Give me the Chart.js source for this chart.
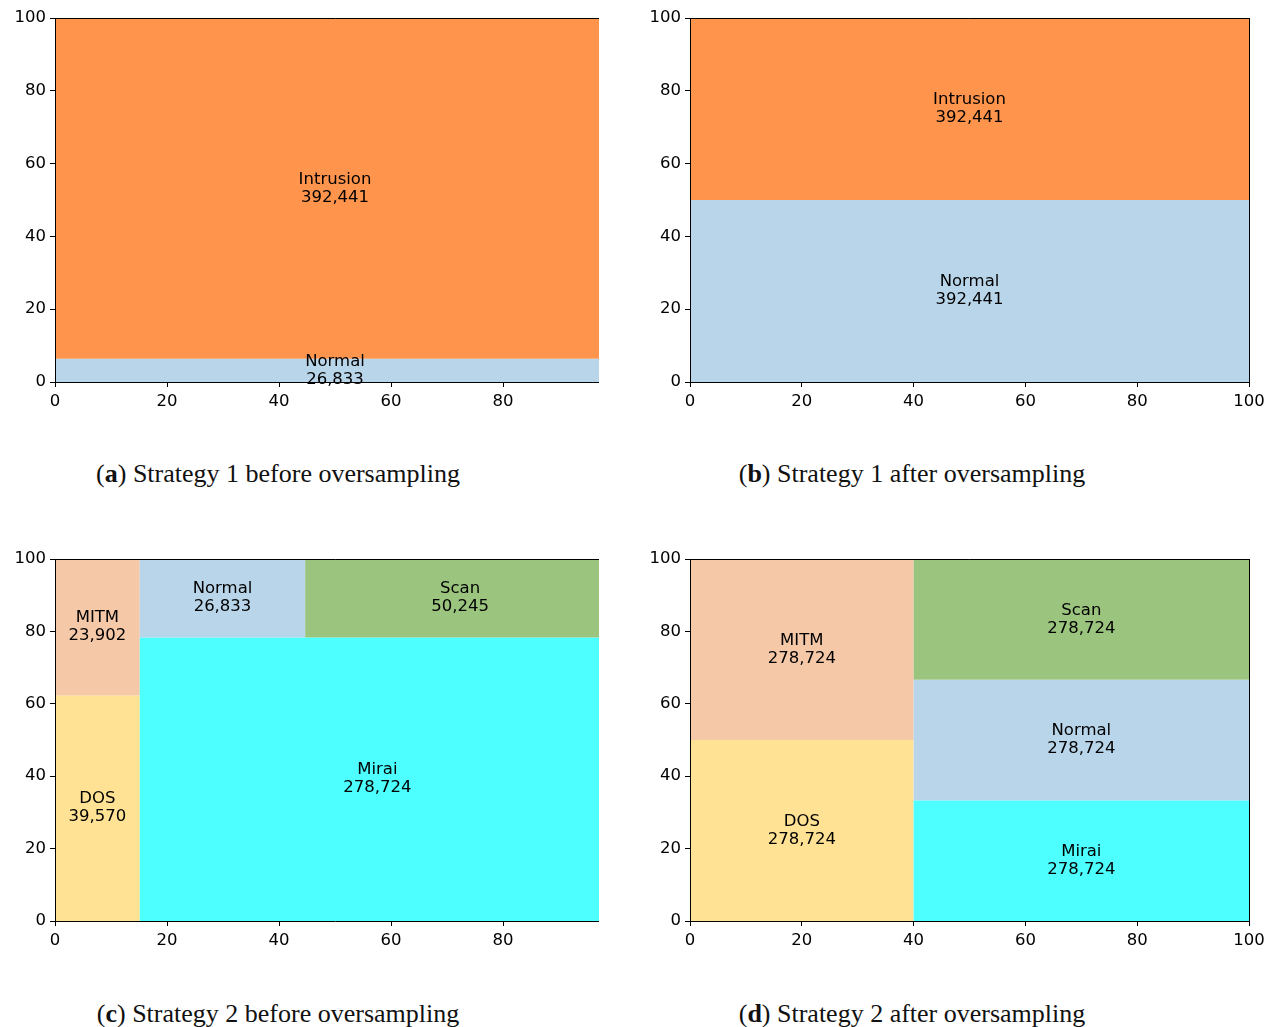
<!DOCTYPE html>
<html>
<head>
<meta charset="utf-8">
<script src="https://cdn.jsdelivr.net/npm/chart.js@4.4.1/dist/chart.umd.min.js"></script>
<style>
  html, body { margin: 0; padding: 0; background: #fff; }
  body { width: 1277px; height: 1027px; position: relative; overflow: hidden; }
  .panel { position: absolute; overflow: hidden; }
  .panel canvas { position: absolute; left: 0; top: 0; }
  .cap {
    position: absolute;
    font-family: "Liberation Serif", "DejaVu Serif", serif;
    font-size: 26px;
    color: #111;
    white-space: nowrap;
    transform: translate(-50%, -50%);
  }
</style>
</head>
<body>
<script>
// ---- data ----
const xTicks = [0, 20, 40, 60, 80, 100];
const yTicks = [0, 20, 40, 60, 80, 100];

const s1BeforeLabels = ['Normal', 'Intrusion'];
const s1BeforeCounts = [26833, 392441];

const s1AfterLabels = ['Normal', 'Intrusion'];
const s1AfterCounts = [392441, 392441];

const s2BeforeLabels = ['DOS', 'MITM', 'Mirai', 'Normal', 'Scan'];
const s2BeforeCounts = [39570, 23902, 278724, 26833, 50245];

const s2AfterLabels = ['DOS', 'MITM', 'Mirai', 'Normal', 'Scan'];
const s2AfterCounts = [278724, 278724, 278724, 278724, 278724];

// ---- styles ----
const classColors = {
  Normal: '#b9d5ea',
  Intrusion: '#ff944d',
  DOS: '#ffe294',
  MITM: '#f5c8a8',
  Mirai: '#4dffff',
  Scan: '#9bc47e'
};

// ---- squarified layout in a 100 x 100 data space ----
function layoutRow(sizes, x, y, dx, dy) {
  const w = sizes.reduce((a, b) => a + b, 0) / dy;
  const out = [];
  for (const s of sizes) { out.push({ x, y, dx: w, dy: s / w }); y += s / w; }
  return out;
}
function layoutCol(sizes, x, y, dx, dy) {
  const h = sizes.reduce((a, b) => a + b, 0) / dx;
  const out = [];
  for (const s of sizes) { out.push({ x, y, dx: s / h, dy: h }); x += s / h; }
  return out;
}
function layout(sizes, x, y, dx, dy) {
  return dx >= dy ? layoutRow(sizes, x, y, dx, dy) : layoutCol(sizes, x, y, dx, dy);
}
function leftover(sizes, x, y, dx, dy) {
  const a = sizes.reduce((p, q) => p + q, 0);
  if (dx >= dy) { const w = a / dy; return [x + w, y, dx - w, dy]; }
  const h = a / dx; return [x, y + h, dx, dy - h];
}
function worstRatio(sizes, x, y, dx, dy) {
  return Math.max(...layout(sizes, x, y, dx, dy).map(r => Math.max(r.dx / r.dy, r.dy / r.dx)));
}
function squarify(sizes, x, y, dx, dy) {
  if (sizes.length === 0) return [];
  if (sizes.length === 1) return layout(sizes, x, y, dx, dy);
  let i = 1;
  while (i < sizes.length &&
         worstRatio(sizes.slice(0, i), x, y, dx, dy) + 1e-9 >= worstRatio(sizes.slice(0, i + 1), x, y, dx, dy)) i++;
  const cur = sizes.slice(0, i), rest = sizes.slice(i);
  const [lx, ly, ldx, ldy] = leftover(cur, x, y, dx, dy);
  return layout(cur, x, y, dx, dy).concat(squarify(rest, lx, ly, ldx, ldy));
}
function buildRects(labels, counts) {
  const total = counts.reduce((a, b) => a + b, 0);
  const norm = counts.map(c => c * 100 * 100 / total);
  return squarify(norm, 0, 0, 100, 100).map((r, i) => ({
    ...r, label: labels[i], value: counts[i], color: classColors[labels[i]]
  }));
}

// ---- drawing ----
const FONT = '"DejaVu Sans", "Liberation Sans", sans-serif';
const TEXT_SIZE = 16.5;

function treemapPlugin(rects) {
  return {
    id: 'treemapCells',
    beforeDraw(chart) {
      const { ctx, scales: { x, y } } = chart;
      ctx.save();
      for (const r of rects) {
        const x0 = x.getPixelForValue(r.x), x1 = x.getPixelForValue(r.x + r.dx);
        const y0 = y.getPixelForValue(r.y), y1 = y.getPixelForValue(r.y + r.dy);
        ctx.fillStyle = r.color;
        ctx.fillRect(x0, y1, x1 - x0, y0 - y1);
      }
      ctx.restore();
    },
    afterDraw(chart) {
      const { ctx, chartArea: a, scales: { x, y } } = chart;
      ctx.save();
      ctx.fillStyle = '#000';
      ctx.font = TEXT_SIZE + 'px ' + FONT;
      ctx.textAlign = 'center';
      ctx.textBaseline = 'middle';
      for (const r of rects) {
        const cx = x.getPixelForValue(r.x + r.dx / 2);
        const cy = y.getPixelForValue(r.y + r.dy / 2);
        ctx.fillText(r.label, cx, cy - 9);
        ctx.fillText(r.value.toLocaleString('en-US'), cx, cy + 9);
      }
      // top and right frame lines
      ctx.strokeStyle = '#000';
      ctx.lineWidth = 1;
      ctx.beginPath();
      ctx.moveTo(a.left, Math.round(a.top) + 0.5);
      ctx.lineTo(a.right + 0.5, Math.round(a.top) + 0.5);
      ctx.moveTo(Math.round(a.right) + 0.5, a.top);
      ctx.lineTo(Math.round(a.right) + 0.5, a.bottom);
      ctx.stroke();
      ctx.restore();
    }
  };
}

const LEFT_GUTTER = 55, TOP_GUTTER = 18, BOTTOM_GUTTER = 45, RIGHT_GUTTER = 30;

function makePanel(p) {
  const cw = p.w + LEFT_GUTTER + RIGHT_GUTTER;
  const ch = p.h + TOP_GUTTER + BOTTOM_GUTTER;
  const div = document.createElement('div');
  div.className = 'panel';
  const ox = p.left - LEFT_GUTTER, oy = p.top - TOP_GUTTER;
  div.style.left = ox + 'px';
  div.style.top = oy + 'px';
  div.style.width = (p.clipRight ? p.clipRight - ox : cw) + 'px';
  div.style.height = ch + 'px';
  const cv = document.createElement('canvas');
  cv.width = cw; cv.height = ch;
  cv.style.width = cw + 'px'; cv.style.height = ch + 'px';
  div.appendChild(cv);
  document.body.appendChild(div);

  const rects = buildRects(p.labels, p.counts);
  const tickFont = { family: FONT, size: TEXT_SIZE };
  const axisCommon = {
    type: 'linear', min: 0, max: 100,
    grid: { display: true, drawOnChartArea: false, drawTicks: true, tickLength: 5, tickColor: '#000', tickWidth: 1 },
    border: { display: true, color: '#000', width: 1 },
  };
  new Chart(cv, {
    type: 'scatter',
    data: { datasets: [] },
    options: {
      responsive: false,
      animation: false,
      layout: { padding: { top: TOP_GUTTER, right: RIGHT_GUTTER, left: 0, bottom: 0 } },
      plugins: { legend: { display: false }, tooltip: { enabled: false }, title: { display: false } },
      scales: {
        x: {
          ...axisCommon,
          position: 'bottom',
          afterBuildTicks(s) { s.ticks = xTicks.map(v => ({ value: v })); },
          afterFit(s) { s.height = BOTTOM_GUTTER; },
          ticks: { font: tickFont, color: '#000', padding: 5, maxRotation: 0, autoSkip: false }
        },
        y: {
          ...axisCommon,
          position: 'left',
          afterBuildTicks(s) { s.ticks = yTicks.map(v => ({ value: v })); },
          afterFit(s) { s.width = LEFT_GUTTER; },
          ticks: { font: tickFont, color: '#000', padding: 4, autoSkip: false }
        }
      }
    },
    plugins: [treemapPlugin(rects)]
  });

  const cap = document.createElement('div');
  cap.className = 'cap';
  cap.style.left = p.capX + 'px';
  cap.style.top = p.capY + 'px';
  cap.innerHTML = '(<b>' + p.tag + '</b>) ' + p.caption;
  document.body.appendChild(cap);
}

const panels = [
  { labels: s1BeforeLabels, counts: s1BeforeCounts, left: 55, top: 18, w: 560, h: 364, clipRight: 599,
    tag: 'a', caption: 'Strategy 1 before oversampling', capX: 278, capY: 474 },
  { labels: s1AfterLabels, counts: s1AfterCounts, left: 690, top: 18, w: 559, h: 364,
    tag: 'b', caption: 'Strategy 1 after oversampling', capX: 912, capY: 474 },
  { labels: s2BeforeLabels, counts: s2BeforeCounts, left: 55, top: 559, w: 560, h: 362, clipRight: 599,
    tag: 'c', caption: 'Strategy 2 before oversampling', capX: 278, capY: 1014 },
  { labels: s2AfterLabels, counts: s2AfterCounts, left: 690, top: 559, w: 559, h: 362,
    tag: 'd', caption: 'Strategy 2 after oversampling', capX: 912, capY: 1014 }
];
panels.forEach(makePanel);
</script>
</body>
</html>
